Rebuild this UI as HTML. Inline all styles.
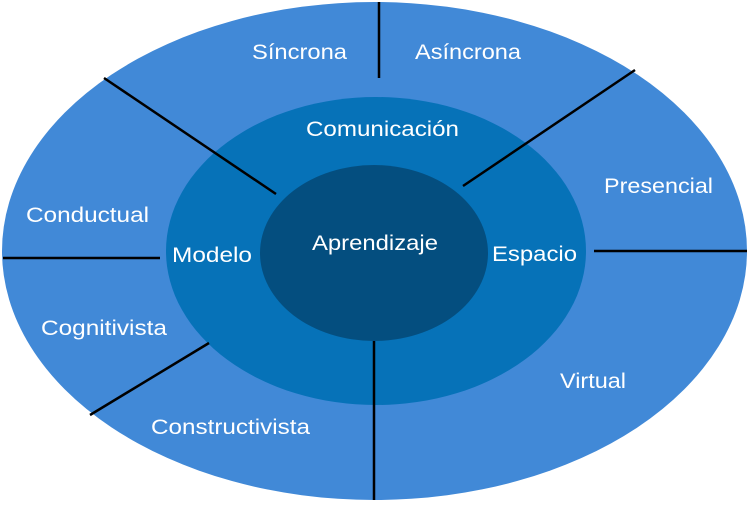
<!DOCTYPE html>
<html><head><meta charset="utf-8"><style>
body{margin:0;width:747px;height:502px;background:#fff;overflow:hidden}
text{font-family:"Liberation Sans",sans-serif;font-size:21px;fill:#fff}
</style></head><body>
<svg width="747" height="502" viewBox="0 0 747 502">
<ellipse cx="374.5" cy="251" rx="372.5" ry="249" fill="#4189d7"/>
<ellipse cx="376" cy="251" rx="210" ry="154" fill="#0672b8"/>
<ellipse cx="374" cy="253" rx="114" ry="88" fill="#044e7f"/>
<g stroke="#000" stroke-width="2.5">
<line x1="104" y1="78" x2="276" y2="194"/>
<line x1="379" y1="2" x2="379" y2="78"/>
<line x1="635" y1="70" x2="463" y2="186"/>
<line x1="3" y1="258" x2="160" y2="258"/>
<line x1="594" y1="251" x2="747" y2="251"/>
<line x1="209" y1="343" x2="90" y2="415"/>
<line x1="374" y1="341" x2="374" y2="500"/>
</g>
<g lengthAdjust="spacingAndGlyphs">
<text x="252" y="59" textLength="95" lengthAdjust="spacingAndGlyphs">Síncrona</text>
<text x="415" y="59" textLength="106" lengthAdjust="spacingAndGlyphs">Asíncrona</text>
<text x="306" y="136" textLength="153" lengthAdjust="spacingAndGlyphs">Comunicación</text>
<text x="604" y="193" textLength="109" lengthAdjust="spacingAndGlyphs">Presencial</text>
<text x="26" y="222" textLength="123" lengthAdjust="spacingAndGlyphs">Conductual</text>
<text x="172" y="262" textLength="80" lengthAdjust="spacingAndGlyphs">Modelo</text>
<text x="312" y="250" textLength="126" lengthAdjust="spacingAndGlyphs">Aprendizaje</text>
<text x="492" y="261" textLength="85" lengthAdjust="spacingAndGlyphs">Espacio</text>
<text x="41" y="335" textLength="126" lengthAdjust="spacingAndGlyphs">Cognitivista</text>
<text x="560" y="388" textLength="66" lengthAdjust="spacingAndGlyphs">Virtual</text>
<text x="151" y="434" textLength="159" lengthAdjust="spacingAndGlyphs">Constructivista</text>
</g>
</svg>
</body></html>
